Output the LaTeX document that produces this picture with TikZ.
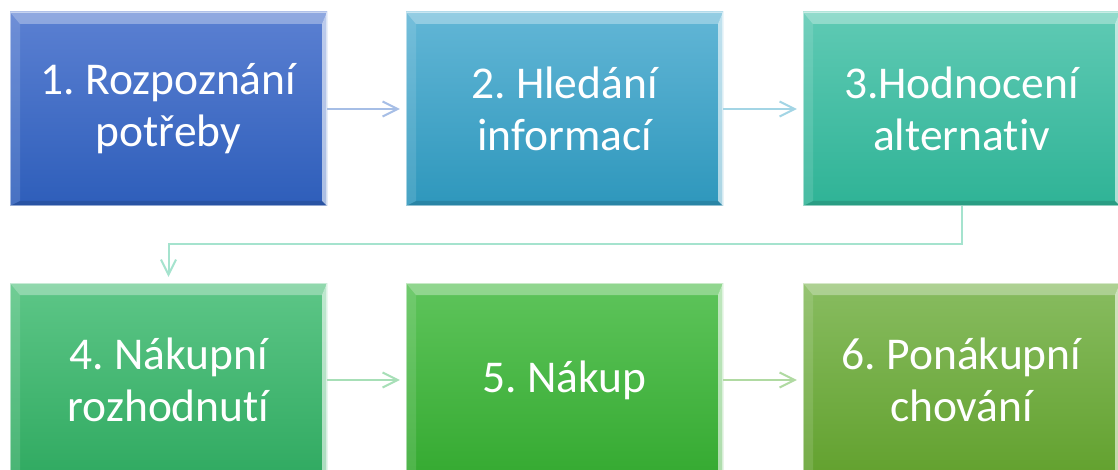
\documentclass[tikz,border=0pt]{standalone}
\usepackage{fontspec}
\setmainfont{Carlito}[Ligatures={NoCommon}]
\frenchspacing
\usetikzlibrary{arrows.meta,shadings}
\definecolor{cA1}{HTML}{5B80D2}\definecolor{cA2}{HTML}{2E5EBA}
\definecolor{cB1}{HTML}{62B6D6}\definecolor{cB2}{HTML}{2E97BC}
\definecolor{cC1}{HTML}{5FCAB4}\definecolor{cC2}{HTML}{2FB396}
\definecolor{cD1}{HTML}{5DC687}\definecolor{cD2}{HTML}{30AA61}
\definecolor{cE1}{HTML}{5EC45B}\definecolor{cE2}{HTML}{35AA31}
\definecolor{cF1}{HTML}{88BC60}\definecolor{cF2}{HTML}{62A12E}
\definecolor{lA}{HTML}{A6BEE6}\definecolor{lB}{HTML}{A3D5E5}
\definecolor{lC}{HTML}{A5E3CE}\definecolor{lD}{HTML}{A7DFB7}
\definecolor{lE}{HTML}{B0DAA2}
\def\ppbb{path picture bounding box}
\tikzset{
  stagebox/.style={rectangle, minimum width=317pt, minimum height=194pt,
    inner sep=0pt, align=center, text=white,
    font=\fontsize{45.5}{52}\selectfont\frenchspacing,
    path picture={
      \fill[white,opacity=0.32] (\ppbb.north west) -- (\ppbb.north east)
        -- ([xshift=-5pt,yshift=-12pt]\ppbb.north east)
        -- ([xshift=10pt,yshift=-12pt]\ppbb.north west) -- cycle;
      \fill[white,opacity=0.12] (\ppbb.north west) -- ([xshift=10pt,yshift=-12pt]\ppbb.north west)
        -- ([xshift=10pt,yshift=5pt]\ppbb.south west) -- (\ppbb.south west) -- cycle;
      \fill[white,opacity=0.6] (\ppbb.north east) -- (\ppbb.south east)
        -- ([xshift=-5pt,yshift=5pt]\ppbb.south east) -- ([xshift=-5pt,yshift=-12pt]\ppbb.north east) -- cycle;
      \fill[black,opacity=0.12] (\ppbb.south west) -- (\ppbb.south east)
        -- ([xshift=-5pt,yshift=5pt]\ppbb.south east) -- ([xshift=10pt,yshift=5pt]\ppbb.south west) -- cycle;
      \draw[white,opacity=0.5,line width=1.5pt] (\ppbb.south west) rectangle (\ppbb.north east);
    }},
  conn/.style={line width=2pt, -{Straight Barb[length=15pt,width=15pt]}, shorten >=6pt}
}
\begin{document}
\begin{tikzpicture}[x=1pt,y=1pt]
\clip (0,0) rectangle (1118,-470);
\fill[white] (0,0) rectangle (1118,-470);
\node[stagebox, top color=cA1, bottom color=cA2] (b1) at (168.5,-109) {1. Rozpoznání\\potřeby};
\node[stagebox, top color=cB1, bottom color=cB2] (b2) at (564.5,-109) {2. Hledání\\informací};
\node[stagebox, top color=cC1, bottom color=cC2] (b3) at (961.5,-109) {3.Hodnocení\\alternativ};
\node[stagebox, top color=cD1, bottom color=cD2] (b4) at (168.5,-380) {4. Nákupní\\rozhodnutí};
\node[stagebox, top color=cE1, bottom color=cE2] (b5) at (564.5,-380) {5. Nákup};
\node[stagebox, top color=cF1, bottom color=cF2] (b6) at (961.5,-380) {6. Ponákupní\\chování};
\draw[conn, lA] (b1.east) -- (b2.west);
\draw[conn, lB] (b2.east) -- (b3.west);
\draw[conn, lC] (b3.south) -- ++(0,-38) -| (b4.north);
\draw[conn, lD] (b4.east) -- (b5.west);
\draw[conn, lE] (b5.east) -- (b6.west);
\end{tikzpicture}
\end{document}
